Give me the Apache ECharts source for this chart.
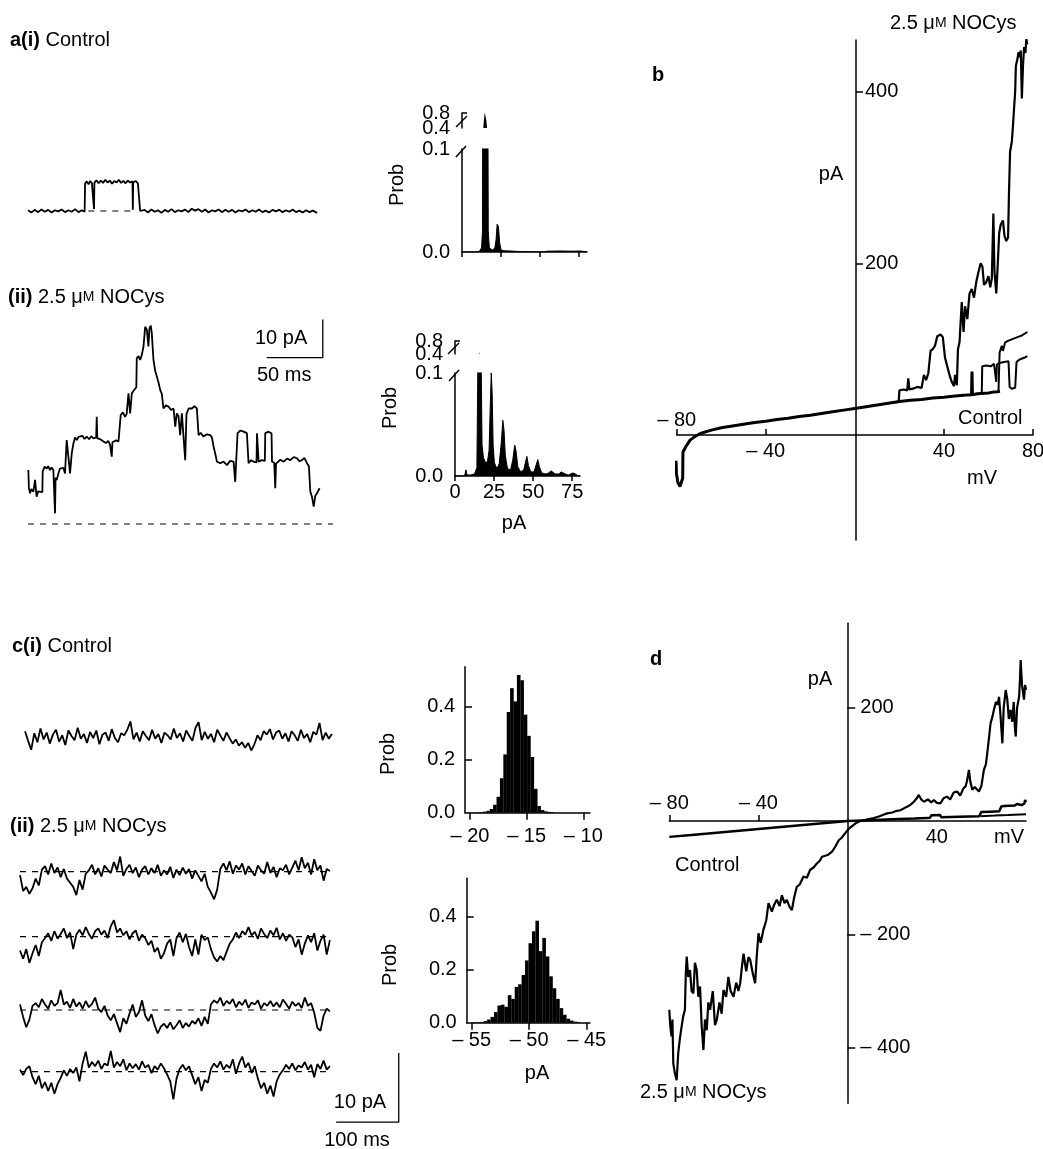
<!DOCTYPE html>
<html>
<head>
<meta charset="utf-8">
<script src="https://cdn.jsdelivr.net/npm/echarts@6/dist/echarts.min.js"></script>
<style>
  html, body { margin: 0; padding: 0; background: #fff; }
  #chart { width: 1043px; height: 1149px; }
</style>
</head>
<body>
<div id="chart"></div>
<script>
// ---- data ----
// a(i) control trace: [ms, pA] relative to closed level
var aCtrlTrace = [[0,0.2],[3,-0.4],[6,0.3],[9,-0.3],[12,0.4],[15,-0.2],[18,0.3],[21,-0.4],[24,0.2],[27,-0.1],[30,0.4],[33,-0.3],[36,0.2],[39,-0.2],[42,0.5],[45,-0.3],[48,0.2],[50.5,-0.2],
  [50.9,7.2],[52.5,7.8],[54,7.0],[55.5,7.9],[57,7.3],[58.6,7.6],[58.9,0.5],[59.2,7.4],[61,8.1],[63,7.3],[65,8.0],[67,7.4],[69,8.2],[71,7.5],[73,8.0],[75,7.2],[77,7.9],[79,7.5],[81,8.2],[83,7.4],[85,7.9],[87,7.3],[89,8.0],[91,7.5],[93.2,7.8],[93.5,0.3],[93.8,7.5],[96,7.9],[98,7.3],[99.7,7.6],[100,0],
  [101.5,-0.5],[104,0.3],[107,-0.4],[110,0.4],[113,-0.2],[116,0.2],[119,-0.5],[122,0.3],[125,-0.2],[128,0.5],[131,-0.3],[134,0.2],[137,-0.1],[140,0.4],[143,-0.3],[146,0.6],[149,0.1],[152,0.5],[155,-0.2],[158,0.4],[161,-0.4],[164,0.2],[167,-0.1],[170,0.4],[173,-0.3],[176,0.3],[179,-0.2],[182,0.3],[185,-0.4],[188,0.2],[191,-0.1],[194,0.4],[197,-0.3],[200,0.2],[203,-0.2],[206,0.4],[209,-0.3],[212,0.1],[215,-0.4],[218,0.3],[221,-0.1],[224,0.3],[227,-0.3],[230,0.2],[233,-0.2],[236,0.4],[239,-0.3],[242,0.1],[245,-0.4],[248,0.2],[251,-0.3],[254,0.1],[257.8,-0.5]];
var aCtrlDash = [[53.8,0],[94,0]];

// a(ii) NOCys trace: [ms, pA]
var aNocysTrace = [[0.3,14.2],[0.8,9.5],[1.8,8.1],[3,9.2],[4.8,8.5],[6.3,11.6],[7.7,7.2],[9,8.6],[10.7,8.1],[12.8,8.4],[13.1,13.8],[14.8,15.1],[16.7,14.6],[18,15.2],[19.6,14.2],[21,14.9],[22.6,14.2],[23.6,13.9],[24.1,2.8],[24.6,12.2],[25.6,11.6],[27.1,13.3],[28.5,14.6],[30.1,14.2],[31.5,14.8],[33,13.3],[34.5,22.1],[36,22.5],[37.5,13.3],[39,18.6],[40.5,21.2],[42,22.8],[43.5,22.1],[45,22.9],[46.4,22.5],[48.5,23.2],[50.4,22.4],[52.4,23],[54.5,22.3],[56.5,23.1],[58.3,22.5],[60.8,22.8],[61.3,28.2],[61.8,22.6],[62.8,23],[65,22.2],[67.3,21.7],[69.5,21.3],[71.5,21.9],[73.2,20.8],[74.7,17.7],[75.3,21.5],[76.2,21.2],[78.5,22],[80.7,21.7],[82.2,21.9],[82.7,28.7],[84.6,29.4],[86.6,28.2],[88,29],[89.6,34.4],[91.1,29.1],[92.6,34.4],[94,35],[95.5,35.3],[96.6,36],[97,43.6],[98.5,44.2],[100,43.2],[101.5,44.5],[103,46.7],[104.5,51.9],[106,51.1],[107.4,46.7],[108.3,51.5],[109.5,52.2],[110.4,50.2],[111.9,43.2],[113.5,40.2],[114.9,38.8],[116.5,37.1],[117.9,35.3],[119.4,34.2],[120.8,30.4],[123,31.2],[125.3,30.9],[127.5,30],[129.8,30.4],[131.3,25.6],[132.7,29.1],[134.2,28.4],[135.7,23.4],[137.2,29.1],[138.7,28.6],[140.2,16.8],[141.3,28.9],[143.2,30.4],[146.1,30.4],[148.5,31],[150.6,30.4],[151.8,29.9],[152.1,23.4],[154,24],[156.5,23],[159.5,23.6],[162.5,23.4],[164,22.8],[165.5,20.4],[167,18.5],[168.5,16.4],[171.4,16],[174.4,16.4],[177.4,15.5],[180.3,16.6],[183.3,16.4],[184.8,11.1],[185.6,16.1],[186.9,23.9],[189.5,24.6],[192.3,24.3],[195.2,23.9],[196.7,16],[199,16.8],[201.2,16.4],[203.8,16.2],[204.2,23.9],[205.3,23.5],[205.7,16.4],[208.6,16.8],[211.2,16.6],[211.6,23.9],[214.6,24.3],[217.2,23.8],[217.6,16.4],[219.6,16.1],[220.5,9.4],[221.2,15.9],[222,16.4],[225,16.9],[228,16.4],[231,17.2],[233.9,16.8],[237,17.6],[239.9,17.3],[242,16.5],[244.3,16.8],[246.5,17.4],[248.8,16],[250.5,15.2],[251.8,8.5],[253.3,7.1],[254.8,4.6],[256.2,7.4],[257.7,8.1],[260.1,9.4]];
var aNocysDash = [[0,0],[272,0]];

// all-points histograms, a: [pA, probability]
var aHistCtrl = [[0,0],[8,0],[11,0.0005],[12.5,0.004],[13.1,0.02],[13.6,0.4],[14.5,0.82],[15.5,0.62],[16.3,0.3],[16.8,0.02],[17.5,0.004],[19.5,0.002],[21,0.004],[21.8,0.012],[22.5,0.027],[23.3,0.025],[24.1,0.009],[25,0.002],[27,0.0012],[31,0.001],[35,0.0006],[40,0.0003],[50,0],[55,0.0008],[62,0.001],[70,0.0008],[76,0.001],[80,0]];
var aHistNocys = [[0,0],[5,0],[6.3,0.001],[7,0.006],[7.7,0.001],[10,0.001],[12.5,0.002],[14,0.008],[14.7,0.12],[15.4,0.46],[16.1,0.32],[16.7,0.12],[17.3,0.03],[18.2,0.018],[19.5,0.013],[20.8,0.014],[21.8,0.025],[22.6,0.07],[23.2,0.1],[23.8,0.08],[24.4,0.03],[25.2,0.013],[26.8,0.007],[28.3,0.012],[29.6,0.032],[30.6,0.054],[31.4,0.044],[32.2,0.02],[33.6,0.007],[35.6,0.006],[37,0.016],[38.2,0.03],[39,0.025],[40.2,0.009],[42,0.004],[44,0.006],[45.2,0.014],[46,0.019],[47,0.01],[48.5,0.004],[50.5,0.004],[52,0.011],[53,0.016],[54,0.009],[55.5,0.003],[58,0.002],[60,0.003],[61.5,0.005],[62.5,0.004],[64,0.002],[66.5,0.002],[68,0.004],[69,0.004],[70.5,0.002],[72.5,0.001],[74,0.002],[75.5,0.003],[77,0.002],[78.5,0.0005],[80,0]];

// b: I-V ramps [mV, pA]
var bCtrl = [[-80.3,-30],[-80.1,-45],[-79.5,-55],[-78.5,-60],[-77.7,-58],[-77.3,-50],[-77.2,-20],[-76,-14],[-75,-10],[-74,-6],[-72.5,-3],[-70,1],[-68,3],[-64,6],[-60,8.5],[-55,10.5],[-50,12.5],[-45,14.5],[-40,16],[-35,18],[-30,19.5],[-25,21.5],[-20,23],[-15,25],[-10,27],[-5,29],[0,31],[5,33],[10,35],[15,37],[20,39],[25,40.5],[30,41.5],[35,43],[40,44],[45,45.5],[50,46.5],[52.4,47],[52.6,74],[52.8,47],[55,48],[60,49],[62,50],[64,50.5],[65.2,51]];
var bCtrlStepA = [[57,48.5],[57.2,80],[59,81],[61,80],[62.5,83],[63.2,82],[63.5,62],[63.8,82],[65,84],[67,85],[69,86],[69.5,56],[70.5,54],[72,55],[72.6,85],[74,88],[76,90],[77.5,92]];
var bCtrlStepB = [[64.5,50.5],[65,96],[66,104],[66.5,98],[67.5,108],[69,110],[71,112],[73,114],[75,116],[77.5,120]];
var bNocys = [[18,38],[19.7,39],[20,52],[22,53],[23.5,52],[24,66],[24.5,53],[26,54],[28,56],[30,55],[31,70],[32,64],[33,72],[34,98],[35,100],[36,104],[37,115],[38.5,117],[39.5,114],[40.5,90],[41.5,80],[42.5,70],[43.5,62],[44.5,57],[45,70],[45.8,58],[46.3,100],[47,108],[48,155],[48.8,120],[49.5,150],[50.5,135],[51.5,165],[52.5,170],[53.5,160],[54.5,178],[55.5,190],[56.5,200],[57.3,196],[58,175],[59,178],[60,185],[60.8,172],[61.5,182],[62.2,258],[62.7,190],[63.5,165],[64.2,200],[64.8,235],[65.5,245],[66.5,250],[67.2,232],[68,226],[68.8,230],[69.2,280],[69.7,330],[70.5,342],[71,360],[71.6,385],[72,400],[72.3,430],[73,438],[73.5,446],[74,440],[74.5,448],[75,392],[75.5,430],[76,452],[76.6,445],[77,462],[77.4,455]];

// c: sampled current traces, pA relative to dashed level, one value every C_STEP ms
var C_STEP = 5;
var cCtrlTrace = [0.8,-0.6,-1.9,0.5,-0.8,1.2,-0.4,0.6,-1.0,0.3, 1.0,-0.7,0.2,-1.2,0.9,0.1,-0.5,1.3,-0.3,0.4, -0.9,0.7,-0.2,0.9,-1.1,0.3,0.6,-0.6,1.1,-0.2, -0.8,0.5,0.2,1.0,2.2,-0.4,0.6,-0.7,0.8,0.1, -0.5,1.0,-0.3,0.4,-0.9,0.6,0.2,-0.4,1.2,-0.2, 0.5,-0.7,0.9,0.1,-0.6,1.3,2.1,-0.5,0.7,-0.3, 0.4,-0.8,1.0,0.2,-0.6,0.6,-0.2,-1.0,-0.4,-1.3, -0.8,-1.6,-0.9,-2.0,-1.1,0.2,-0.5,0.8,0.3,1.1, -0.4,0.6,0.9,-0.3,0.5,-0.7,0.8,0.2,-0.6,1.0, -0.2,0.4,-0.8,0.7,0.3,2.0,-0.5,0.6,-0.3,0.4];
var cNocysTrace1 = [-0.5,-2.8,-2.2,-3.2,-2.4,-1.0,-2.0,0.3,0.8,-0.4, 1.2,-0.2,0.6,-0.8,0.4,-1.0,-1.6,-2.2,-3.4,-1.2, -2.6,-0.3,0.2,1.0,-0.4,0.5,-0.7,0.9,0.3,-0.2, 1.4,0.2,2.2,-0.6,0.4,1.0,-0.2,0.6,-0.8,0.3, 0.8,-0.4,0.5,-0.2,1.0,-0.6,0.2,-0.4,0.7,-0.9, 0.3,-0.5,0.6,-0.3,0.4,-1.0,0.2,-0.6,-1.4,-0.3, -2.2,-3.0,-4.0,-2.6,0.4,1.2,0.2,1.5,-0.3,0.9, 0.3,1.2,-0.4,0.8,0.1,-0.6,0.9,0.2,-0.3,1.4, -0.2,0.7,-0.8,0.5,0.2,1.0,-0.4,0.6,1.6,0.2, 2.1,0.5,1.3,-0.4,1.8,0.2,0.9,-1.3,0.4,0.1];
var cNocysTrace2 = [-2.0,-3.2,-1.8,-3.8,-2.4,-1.2,-2.8,-0.8,-0.2,0.5, -0.6,0.8,-0.3,0.4,1.2,-0.2,0.6,-1.8,0.3,1.0, 0.2,1.4,0.4,-0.3,0.8,1.2,0.3,0.9,-0.2,1.5, 2.4,0.6,1.2,0.2,0.8,-0.4,0.5,0.9,-0.6,0.3, -0.2,-1.2,-0.6,-2.2,-1.6,-3.2,-2.4,-1.0,-0.4,-2.8, -0.2,0.6,-0.8,0.4,-1.5,-2.8,-0.4,-2.6,0.3,-0.5, -0.1,-1.8,-3.0,-3.6,-2.8,-3.4,-2.2,-1.0,-0.4,0.6, -0.2,0.8,0.3,1.4,0.2,0.7,-0.3,1.2,0.4,-0.2, 0.9,0.2,1.3,-0.4,0.5,-0.6,0.3,-0.1,-1.5,-0.4, -2.6,-1.0,0.2,-0.8,0.5,-2.0,-0.6,0.3,-2.6,-0.5];
var cNocysTrace3 = [0.8,-1.0,-2.5,-1.4,0.6,1.0,0.4,1.6,0.8,0.2, 1.4,0.6,1.0,2.9,0.8,1.2,0.3,1.6,0.5,1.1, 0.2,1.3,0.4,0.9,1.8,0.2,-0.3,0.6,-0.8,-1.5, -0.6,-1.9,-3.2,-1.2,-2.0,-0.5,0.8,-1.0,-0.3,1.4, -0.8,-1.6,-0.6,-2.2,-3.4,-2.4,-2.0,-2.6,-1.8,-2.8, -2.2,-1.5,-2.6,-1.9,-2.4,-1.6,-2.0,-1.2,-2.3,-1.0, -2.0,0.8,1.4,1.0,1.8,0.6,1.3,0.9,1.6,0.4, 1.2,0.7,1.5,0.3,1.1,0.8,1.4,0.2,1.0,0.6, 1.3,0.5,1.1,0.4,1.5,0.9,0.2,1.2,0.6,1.0, 0.3,1.8,0.6,1.0,-0.4,-2.6,-3.0,-0.8,0.2,-0.2];
var cNocysTrace4 = [0.3,-0.5,0.4,0.8,-0.8,-1.8,-0.6,-2.4,-1.5,-2.8, -1.6,-3.2,-1.8,-0.9,0.2,-0.6,0.4,-0.2,0.6,-1.4, 1.2,2.9,0.6,1.4,0.8,1.6,0.4,1.2,0.9,3.0, 0.6,1.4,0.8,1.8,0.2,1.2,0.5,1.1,0.3,1.5, 0.6,1.0,-0.2,0.8,0.3,1.2,0.5,-0.4,-1.4,-4.0, -1.0,0.4,1.0,0.2,0.8,-0.5,-1.8,-0.8,-2.8,-1.2, -1.6,0.4,1.2,0.6,1.5,0.3,1.0,0.5,1.8,-0.3, 1.2,2.2,0.6,1.3,-0.2,0.8,-1.0,-2.4,-1.6,-3.2, -2.0,-3.6,-1.4,-0.4,0.2,1.0,0.4,1.2,0.2,0.9, 0.6,1.4,0.3,1.0,-0.8,1.1,0.4,1.6,0.3,0.8];

// c histograms: [bin centre pA, probability]
var cHistCtrl = [[-20,0.001],[-19.6,0.001],[-19.3,0.002],[-19.0,0.002],[-18.7,0.004],[-18.4,0.007],[-18.1,0.014],[-17.8,0.03],[-17.5,0.06],[-17.2,0.13],[-16.9,0.22],[-16.6,0.38],[-16.3,0.47],[-16.0,0.42],[-15.7,0.52],[-15.4,0.5],[-15.1,0.37],[-14.8,0.29],[-14.5,0.21],[-14.2,0.09],[-13.9,0.025],[-13.6,0.01],[-13.3,0.005],[-13.0,0.003],[-12.7,0.002]];
var cHistNocys = [[-54.7,0.002],[-54.4,0.002],[-54.1,0.003],[-53.8,0.006],[-53.5,0.012],[-53.2,0.022],[-52.9,0.04],[-52.6,0.065],[-52.3,0.068],[-52.0,0.06],[-51.7,0.104],[-51.4,0.09],[-51.1,0.135],[-50.8,0.145],[-50.5,0.18],[-50.2,0.235],[-49.9,0.3],[-49.6,0.345],[-49.3,0.385],[-49.0,0.27],[-48.7,0.32],[-48.4,0.25],[-48.1,0.175],[-47.8,0.13],[-47.5,0.09],[-47.2,0.055],[-46.9,0.03],[-46.6,0.015],[-46.3,0.008],[-46.0,0.004],[-45.7,0.002]];

// d: I-V ramps [mV, pA]
var dCtrl = [[-80,-28],[-70,-24.5],[-60,-21],[-50,-17.5],[-40,-14],[-30,-10.5],[-20,-7],[-10,-3.5],[0,0],[10,1.5],[20,3],[30,4.5],[36,5.5],[37,5.6],[37.5,10],[41.5,10.5],[42,6.5],[50,7.5],[59,8.5],[59.6,8.6],[60,16],[64,16.5],[68,17],[68.6,17.5],[69,26],[72,27],[75,27.5],[76,30],[78,28],[79.3,31],[79.6,37],[80,33]];
var dCtrlLow = [[59.6,8.6],[66,9.5],[72,10.5],[80,12]];
var dNocys = [[-80,-333],[-79.6,-360],[-79,-380],[-78.6,-350],[-78.2,-428],[-77.5,-445],[-76.7,-457],[-76.3,-430],[-76,-410],[-75.3,-385],[-74.5,-363],[-73.8,-345],[-73,-333],[-72.6,-270],[-72.2,-239],[-71.5,-275],[-70.7,-263],[-70,-300],[-69.2,-304],[-68.5,-250],[-67.7,-263],[-67,-310],[-66.2,-292],[-65.5,-360],[-64.7,-404],[-64,-350],[-63.2,-369],[-62.5,-320],[-61.7,-333],[-60.5,-300],[-59.5,-360],[-58.7,-351],[-57.5,-320],[-56.5,-340],[-55.7,-298],[-54.5,-310],[-53.5,-275],[-52.5,-300],[-51.2,-310],[-50,-285],[-49,-300],[-48.2,-286],[-47.5,-260],[-46.7,-234],[-45.5,-265],[-44.5,-240],[-43.7,-245],[-42.5,-270],[-41.5,-286],[-40.8,-240],[-40,-198],[-39,-215],[-37.8,-192],[-36.5,-175],[-35.5,-145],[-34,-160],[-33,-148],[-31.8,-139],[-30.5,-150],[-29.5,-131],[-28.3,-145],[-27.3,-139],[-26,-152],[-25,-157],[-24,-135],[-22.8,-116],[-21.5,-112],[-19.8,-98],[-18.3,-100],[-16.8,-86],[-15.3,-82],[-13.8,-75],[-12.5,-70],[-11.5,-63],[-9,-60],[-7,-54],[-5.5,-45],[-4,-34],[-2.8,-30],[-1.8,-25],[-0.8,-20],[0,-16],[1.3,-11],[2.7,-7],[4,-3],[5.7,0],[8,2],[10,4],[11.7,5],[14,8],[16,11],[17.7,13.5],[20,15],[22,18],[23.7,19],[26,24],[28,28],[29.7,34],[31,40],[31.9,46],[33,38],[34.2,34],[36,38],[37.5,33],[38.7,37],[40,32],[41.6,31],[43,40],[44.6,43],[46,38],[47.5,50],[49.1,52],[50.5,45],[52,58],[52.9,61],[53.5,70],[54.4,90],[55,70],[55.9,55],[57,60],[58.9,52],[60,62],[61.1,90],[62,100],[62.6,119],[63.5,150],[64.1,172],[65,185],[65.6,196],[66.5,210],[67.3,205],[67.9,219],[68.5,190],[69,160],[69.4,137],[70,200],[70.9,231],[71.6,215],[72.3,180],[73.1,196],[73.8,175],[74.5,210],[75,165],[75.4,149],[76,200],[76.9,219],[77.3,250],[77.6,284],[78.2,240],[79.1,214],[79.6,240],[80,231]];

// scale bars
var SCALE_A = { pA: 10, ms: 50, cornerT: 262.9, cornerI: 43.8 };
var SCALE_C = { pA: 10, ms: 100, cornerT: 605, cornerI: -7.3 };

// ---- chart building ----
var FONT = '"Liberation Sans", Arial, Helvetica, sans-serif';
var FS = 20;
var grids = [], xAxes = [], yAxes = [], series = [];

function dash(v) { return v < 0 ? '\u2013 ' + Math.abs(v) : String(v); }
function one(v) { return v.toFixed(1); }

function ax(o) {
  return Object.assign({ type: 'value', splitLine: { show: false } }, o, {
    axisLine: Object.assign({ onZero: false, lineStyle: { color: '#000', width: 1.5 } }, o.axisLine || {}),
    axisTick: Object.assign({ lineStyle: { color: '#000', width: 1.5 } }, o.axisTick || {}),
    axisLabel: Object.assign({ color: '#000', fontSize: FS, fontFamily: FONT,
      showMinLabel: true, showMaxLabel: true, hideOverlap: false }, o.axisLabel || {})
  });
}
function grid(left, top, width, height) {
  grids.push({ left: left, top: top, width: width, height: height, containLabel: false, outerBoundsMode: 'none' });
  return grids.length - 1;
}
function addX(o) { xAxes.push(ax(o)); return xAxes.length - 1; }
function addY(o) { yAxes.push(ax(o)); return yAxes.length - 1; }
function hidden(gi, min, max) { return { gridIndex: gi, show: false, min: min, max: max }; }
function line(xi, yi, data, w, extra) {
  series.push(Object.assign({
    type: 'line', xAxisIndex: xi, yAxisIndex: yi, data: data, symbol: 'none', showSymbol: false,
    lineStyle: { color: '#000', width: w || 1.5 }, silent: true, animation: false
  }, extra || {}));
}
function sampled(vals) { return vals.map(function (v, i) { return [i * C_STEP, v]; }); }
function scaleBar(s) {
  return [[s.cornerT - s.ms, s.cornerI], [s.cornerT, s.cornerI], [s.cornerT, s.cornerI + s.pA]];
}
var DASHED = { lineStyle: { color: '#000', width: 1.2, type: [6, 6] } };

// a(i) trace
var g = grid(28, 165.4, 305, 57);
var xi = addX(hidden(g, 0, 272)), yi = addY(hidden(g, -3, 12));
line(xi, yi, aCtrlDash, 1.2, DASHED);
line(xi, yi, aCtrlTrace, 1.8);

// a(ii) trace
g = grid(28, 311.2, 305, 220.4);
xi = addX(hidden(g, 0, 272)); yi = addY(hidden(g, -2, 56));
line(xi, yi, aNocysDash, 1.2, DASHED);
line(xi, yi, aNocysTrace, 1.8);
line(xi, yi, scaleBar(SCALE_A), 1.3);

// a histograms (broken y axis: lower 0-0.1, upper 0.4-0.8)
function aHist(left, lowTop, upTop, upH, data, showX) {
  var gl = grid(left, lowTop, 125, 103);
  var xl = addX({ gridIndex: gl, min: 0, max: 80,
    axisTick: { length: 5, customValues: [0, 25, 50, 75] },
    axisLabel: { show: showX, customValues: [0, 25, 50, 75], margin: 6 } });
  var yl = addY({ gridIndex: gl, min: 0, max: 0.1, axisTick: { show: false },
    axisLabel: { customValues: [0, 0.1], formatter: one, margin: 12 } });
  line(xl, yl, data, 1, { areaStyle: { color: '#000', opacity: 1 } });
  var gu = grid(left, upTop, 125, upH);
  var xu = addX(hidden(gu, 0, 80));
  var yu = addY({ gridIndex: gu, min: 0.4, max: 0.8, position: 'left',
    axisTick: { inside: true, length: 5, customValues: [0.8] },
    axisLabel: { customValues: [0.8], formatter: one, margin: 12 } });
  // separate label carrier so the two crowded labels are both kept
  addY({ gridIndex: gu, min: 0.4, max: 0.8, position: 'left', axisLine: { show: false }, axisTick: { show: false },
    axisLabel: { customValues: [0.4], formatter: one, margin: 12 } });
  line(xu, yu, data, 1, { lineStyle: { width: 0, opacity: 0 }, areaStyle: { color: '#000', opacity: 1 } });
}
aHist(462, 149, 113, 15, aHistCtrl, false);
aHist(455, 373, 341, 13, aHistNocys, true);

// b I-V (axes cross at 0 mV / 0 pA)
g = grid(676.7, 40, 356.3, 500);
xi = addX({ gridIndex: g, min: -80, max: 80, position: 'bottom', offset: -105,
  axisTick: { inside: true, length: 6, customValues: [-80, -40, 40, 80] },
  axisLabel: { customValues: [-40, 40, 80], formatter: dash, margin: 6 } });
addX({ gridIndex: g, min: -80, max: 80, position: 'bottom', offset: -105, axisLine: { show: false },
  axisTick: { show: false }, axisLabel: { inside: true, customValues: [-80], formatter: dash, margin: 5 } });
yi = addY({ gridIndex: g, min: -122.3, max: 460.2, position: 'left', offset: -179.3,
  axisTick: { inside: true, length: 7, customValues: [200, 400] },
  axisLabel: { inside: true, customValues: [200, 400], margin: 9 } });
line(xi, yi, bCtrl, 3);
line(xi, yi, bCtrlStepA, 2);
line(xi, yi, bCtrlStepB, 2);
line(xi, yi, bNocys, 2.2);

// c traces
g = grid(25, 695.3, 310, 82.8);
xi = addX(hidden(g, 0, 500)); yi = addY(hidden(g, -6, 6));
line(xi, yi, sampled(cCtrlTrace), 1.8);
[[871.7, cNocysTrace1], [936.7, cNocysTrace2], [1010, cNocysTrace3]].forEach(function (t) {
  var gg = grid(20, t[0] - 41.4, 313, 82.8);
  var xx = addX(hidden(gg, 0, 500)), yy = addY(hidden(gg, -6, 6));
  line(xx, yy, [[0, 0], [495, 0]], 1.2, DASHED);
  line(xx, yy, sampled(t[1]), 1.8);
});
g = grid(20, 1071.7 - 41.4, 610 * 0.626, 96.6);
xi = addX(hidden(g, 0, 610)); yi = addY(hidden(g, -8, 6));
line(xi, yi, [[0, 0], [495, 0]], 1.2, DASHED);
line(xi, yi, sampled(cNocysTrace4), 1.8);
line(xi, yi, scaleBar(SCALE_C), 1.3);

// c histograms
function cHist(left, top, width, height, xmin, xmax, ymax, ticks, margin, data) {
  var gg = grid(left, top, width, height);
  var xx = addX({ gridIndex: gg, min: xmin, max: xmax,
    axisTick: { length: 7, customValues: ticks },
    axisLabel: { customValues: ticks, formatter: dash, margin: margin } });
  var yy = addY({ gridIndex: gg, min: 0, max: ymax,
    axisTick: { inside: true, length: 7, customValues: [0.2, 0.4] },
    axisLabel: { customValues: [0, 0.2, 0.4], formatter: one, margin: 10 } });
  series.push({ type: 'bar', xAxisIndex: xx, yAxisIndex: yy, data: data, barWidth: 3.6,
    itemStyle: { color: '#000' }, silent: true, animation: false });
}
cHist(465, 666.7, 125, 146, -20.44, -9.41, 0.551, [-20, -15, -10], 14, cHistCtrl);
cHist(466.7, 878.3, 123.3, 144.4, -55.43, -44.71, 0.545, [-55, -50, -45], 8, cHistNocys);

// d I-V (axes cross at 0 mV / 0 pA)
g = grid(669.3, 623.3, 356.7, 480);
xi = addX({ gridIndex: g, min: -80, max: 80, position: 'bottom', offset: -282.3,
  axisTick: { inside: true, length: 6, customValues: [-80, -40] },
  axisLabel: { customValues: [40], formatter: dash, margin: 6 } });
addX({ gridIndex: g, min: -80, max: 80, position: 'bottom', offset: -282.3, axisLine: { show: false },
  axisTick: { show: false }, axisLabel: { inside: true, customValues: [-80, -40], formatter: dash, margin: 8 } });
yi = addY({ gridIndex: g, min: -497.9, max: 348.7, position: 'left', offset: -178,
  axisTick: { inside: true, length: 8, customValues: [200, -200, -400] },
  axisLabel: { inside: true, customValues: [200, -200, -400], formatter: dash, margin: 13 } });
line(xi, yi, dCtrl, 2.5);
line(xi, yi, dCtrlLow, 2);
line(xi, yi, dNocys, 2.2);

// ---- text and break marks ----
var RICH = {
  b: { fontWeight: 'bold', fontSize: FS, fontFamily: FONT },
  m: { fontSize: 14, fontFamily: FONT }
};
function txt(x, y, text, align, rot) {
  return { type: 'text', x: x, y: y, rotation: rot || 0, silent: true,
    style: { text: text, x: 0, y: 0, fill: '#000', font: FS + 'px ' + FONT,
      align: align || 'left', verticalAlign: 'middle', rich: RICH } };
}
function seg(x1, y1, x2, y2) {
  return { type: 'line', silent: true, shape: { x1: x1, y1: y1, x2: x2, y2: y2 },
    style: { stroke: '#000', lineWidth: 1.5 } };
}
var NOCYS = '2.5 \u03bc{m|M} NOCys';
var graphics = [
  txt(10, 40, '{b|a(i)} Control'),
  txt(8, 297, '{b|(ii)} ' + NOCYS),
  txt(255, 338, '10 pA'),
  txt(257, 375, '50 ms'),
  txt(397, 185, 'Prob', 'center', Math.PI / 2),
  txt(390, 408, 'Prob', 'center', Math.PI / 2),
  txt(514, 523, 'pA', 'center'),
  txt(652, 75, '{b|b}'),
  txt(890, 23, NOCYS),
  txt(831, 174, 'pA', 'center'),
  txt(958, 418, 'Control'),
  txt(982, 478, 'mV', 'center'),
  txt(12, 646, '{b|c(i)} Control'),
  txt(10, 826, '{b|(ii)} ' + NOCYS),
  txt(388, 754, 'Prob', 'center', Math.PI / 2),
  txt(390, 965, 'Prob', 'center', Math.PI / 2),
  txt(537, 1073, 'pA', 'center'),
  txt(360, 1102, '10 pA', 'center'),
  txt(357, 1140, '100 ms', 'center'),
  txt(650, 659, '{b|d}'),
  txt(820, 679, 'pA', 'center'),
  txt(1009, 837, 'mV', 'center'),
  txt(675, 865, 'Control'),
  txt(640, 1092, NOCYS),
  // axis breaks on the a histograms
  seg(456, 157, 466, 146), seg(456, 127, 467, 116),
  seg(449, 381, 459, 370), seg(448, 354, 459, 343)
];

var chart = echarts.init(document.getElementById('chart'), null, { renderer: 'canvas' });
chart.setOption({
  backgroundColor: '#fff',
  animation: false,
  grid: grids,
  xAxis: xAxes,
  yAxis: yAxes,
  series: series,
  graphic: graphics
});
</script>
</body>
</html>
